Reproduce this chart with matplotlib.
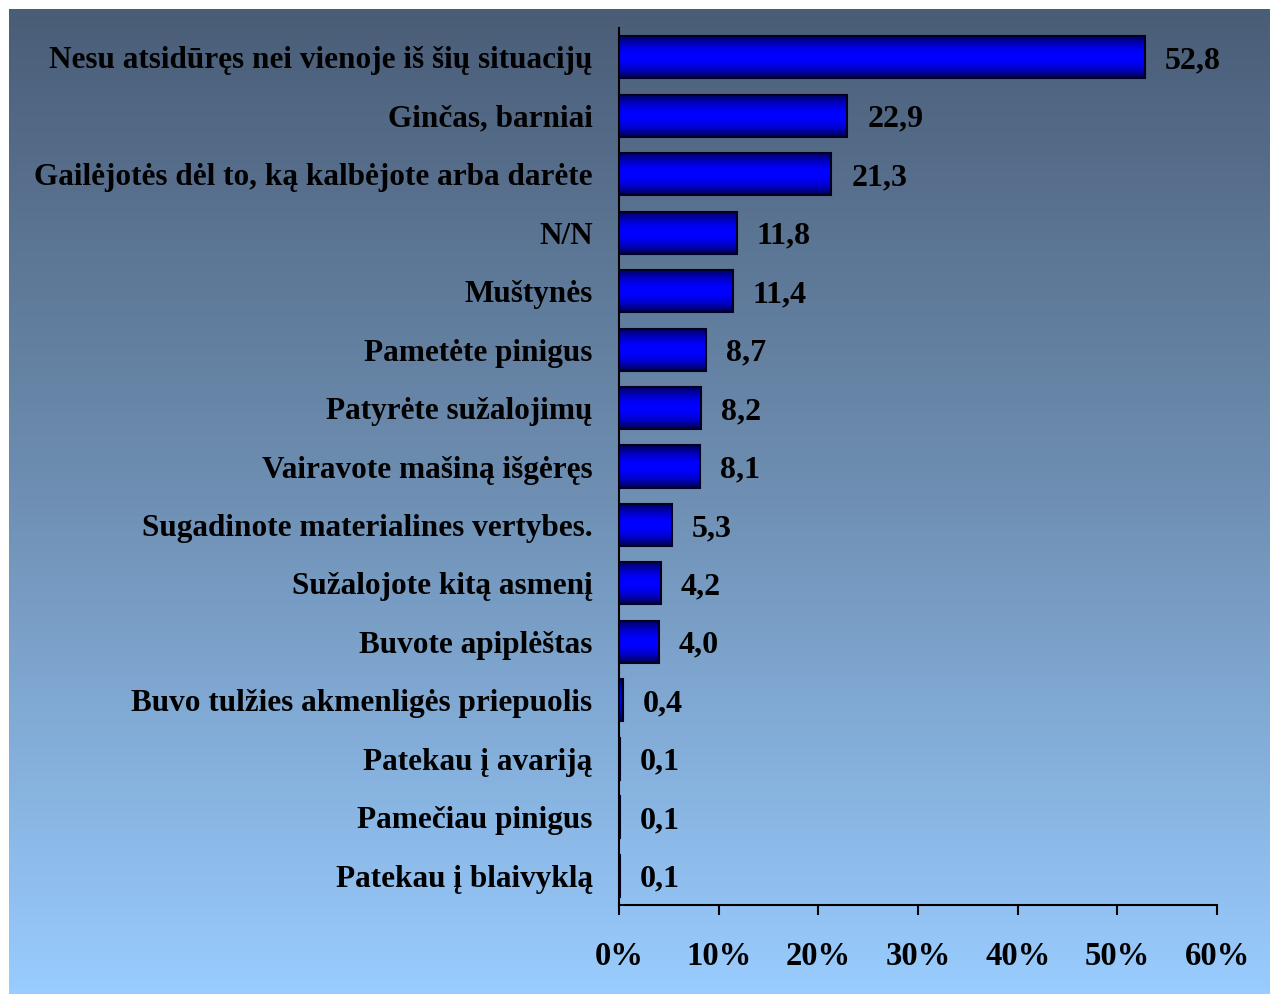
import numpy as np
import matplotlib.pyplot as plt
from matplotlib.colors import LinearSegmentedColormap

# survey answers, top to bottom
categories = [
    "Nesu atsidūręs nei vienoje iš šių situacijų",
    "Ginčas, barniai",
    "Gailėjotės dėl to, ką kalbėjote arba darėte",
    "N/N",
    "Muštynės",
    "Pametėte pinigus",
    "Patyrėte sužalojimų",
    "Vairavote mašiną išgėręs",
    "Sugadinote materialines vertybes.",
    "Sužalojote kitą asmenį",
    "Buvote apiplėštas",
    "Buvo tulžies akmenligės priepuolis",
    "Patekau į avariją",
    "Pamečiau pinigus",
    "Patekau į blaivyklą",
]
values = [52.8, 22.9, 21.3, 11.8, 11.4, 8.7, 8.2, 8.1, 5.3, 4.2, 4.0, 0.4, 0.1, 0.1, 0.1]
xticks = [0, 10, 20, 30, 40, 50, 60]

plt.rcParams['font.family'] = ['Liberation Serif', 'DejaVu Serif']
plt.rcParams['font.weight'] = 'bold'

W, H = 1273, 994
fig = plt.figure(figsize=(W / 100, H / 100), dpi=100, facecolor='white')

# gradient background panel
bg = fig.add_axes([9 / W, 0, (1270 - 9) / W, 1 - 9 / H], zorder=-1)
bg_cmap = LinearSegmentedColormap.from_list('bg', ['#4a5d77', '#6f90b4', '#99ccff'])
bg.imshow(np.linspace(0, 1, 256).reshape(-1, 1), cmap=bg_cmap, aspect='auto',
          extent=[0, 1, 0, 1], origin='upper')
bg.axis('off')

ax = fig.add_axes([619 / W, 1 - 905 / H, (1217 - 619) / W, (905 - 28) / H])
ax.set_facecolor('none')

y = np.arange(len(categories))
bars = ax.barh(y, values, height=0.72, facecolor='none', edgecolor='#000020',
               linewidth=1.5, zorder=3)

bar_cmap = LinearSegmentedColormap.from_list('bar', ['#000050', '#0000c8', '#0000ff',
                                                     '#0000ff', '#0000c0', '#00005a'])
grad = np.linspace(0, 1, 64).reshape(-1, 1)
for b in bars:
    x0, y0, w, h = b.get_x(), b.get_y(), b.get_width(), b.get_height()
    im = ax.imshow(grad, cmap=bar_cmap, aspect='auto', origin='lower',
                   extent=[x0, x0 + w, y0 + h, y0], zorder=2)
    im.set_clip_path(b)

for yi, v in zip(y, values):
    ax.text(v + 2.0, yi, f"{v:.1f}".replace('.', ','), va='center_baseline', ha='left',
            fontsize=23, fontweight='bold', color='black', zorder=4)

ax.set_xlim(0, 60)
ax.set_ylim(len(categories) - 0.5, -0.5)
ax.set_yticks(y)
ax.set_yticklabels(categories, fontsize=22.5, fontweight='bold')
ax.set_xticks(xticks)
ax.set_xticklabels([f"{t}%" for t in xticks], fontsize=23.5, fontweight='bold')
ax.tick_params(axis='y', length=0, pad=19)
ax.tick_params(axis='x', length=7, width=1.5, direction='out', pad=19)

for s in ['top', 'right']:
    ax.spines[s].set_visible(False)
for s in ['left', 'bottom']:
    ax.spines[s].set_linewidth(1.5)
    ax.spines[s].set_color('black')

fig.savefig('out.png', dpi=100, facecolor='white')
